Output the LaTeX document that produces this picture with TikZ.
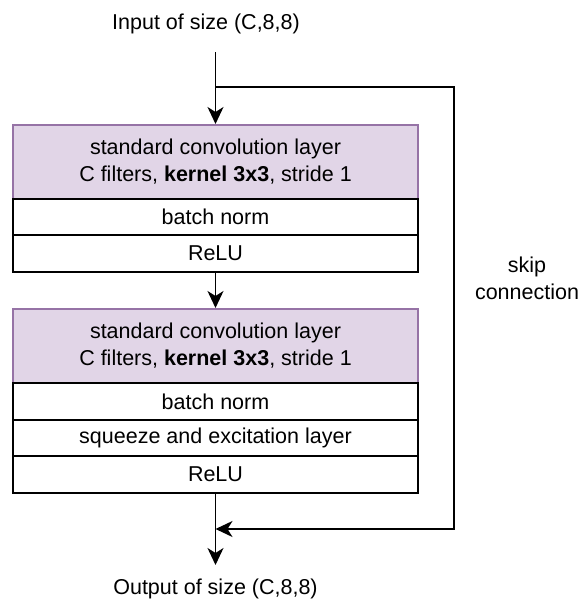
\documentclass[tikz,border=0pt]{standalone}
\usepackage{fontspec}
\setmainfont{Liberation Sans}
\usetikzlibrary{arrows.meta}
\definecolor{pfill}{HTML}{E1D5E7}
\definecolor{pline}{HTML}{9673A6}
\begin{document}
\begin{tikzpicture}[x=1pt,y=-1pt,
  txt/.style={font=\fontsize{21.5}{27}\selectfont, align=center, inner sep=0pt},
  layer/.style={txt, draw=black, line width=1.8pt, fill=white, minimum width=405pt, minimum height=37pt, anchor=north},
  conv/.style={layer, draw=pline, fill=pfill, minimum height=74pt},
  arr/.style={-{Stealth[length=17pt,width=16pt,inset=5pt]}, line width=1.6pt}]
\useasboundingbox (0,0) rectangle (582,605);
\node[conv] (conv1) at (215.5,124) {standard convolution layer\\C filters, \textbf{kernel 3x3}, stride 1};
\node[layer, minimum height=36pt] (bn1) at (215.5,198) {batch norm};
\node[layer] (relu1) at (215.5,234) {ReLU};
\node[conv] (conv2) at (215.5,308) {standard convolution layer\\C filters, \textbf{kernel 3x3}, stride 1};
\node[layer] (bn2) at (215.5,382) {batch norm};
\node[layer, minimum height=36pt] (se2) at (215.5,419) {squeeze and excitation layer};
\node[layer] (relu2) at (215.5,455) {ReLU};
\node[txt] (in) at (206,24) {Input of size (C,8,8)};
\node[txt] (out) at (215.5,589) {Output of size (C,8,8)};
\node[txt] (skip) at (527,278) {skip\\connection};
\coordinate (top) at (215.5,52);
\coordinate (branch) at (215.5,87);
\coordinate (sr1) at (454,87);
\coordinate (sr2) at (454,529);
\coordinate (merge) at (215.5,529);
\coordinate (bottom) at (215.5,565);
\draw[arr] (top) -- (conv1.north);
\draw[arr] (branch) -- (sr1) -- (sr2) -- (merge);
\draw[arr] (relu1.south) -- (conv2.north);
\draw[arr] (relu2.south) -- (bottom);
\end{tikzpicture}
\end{document}
